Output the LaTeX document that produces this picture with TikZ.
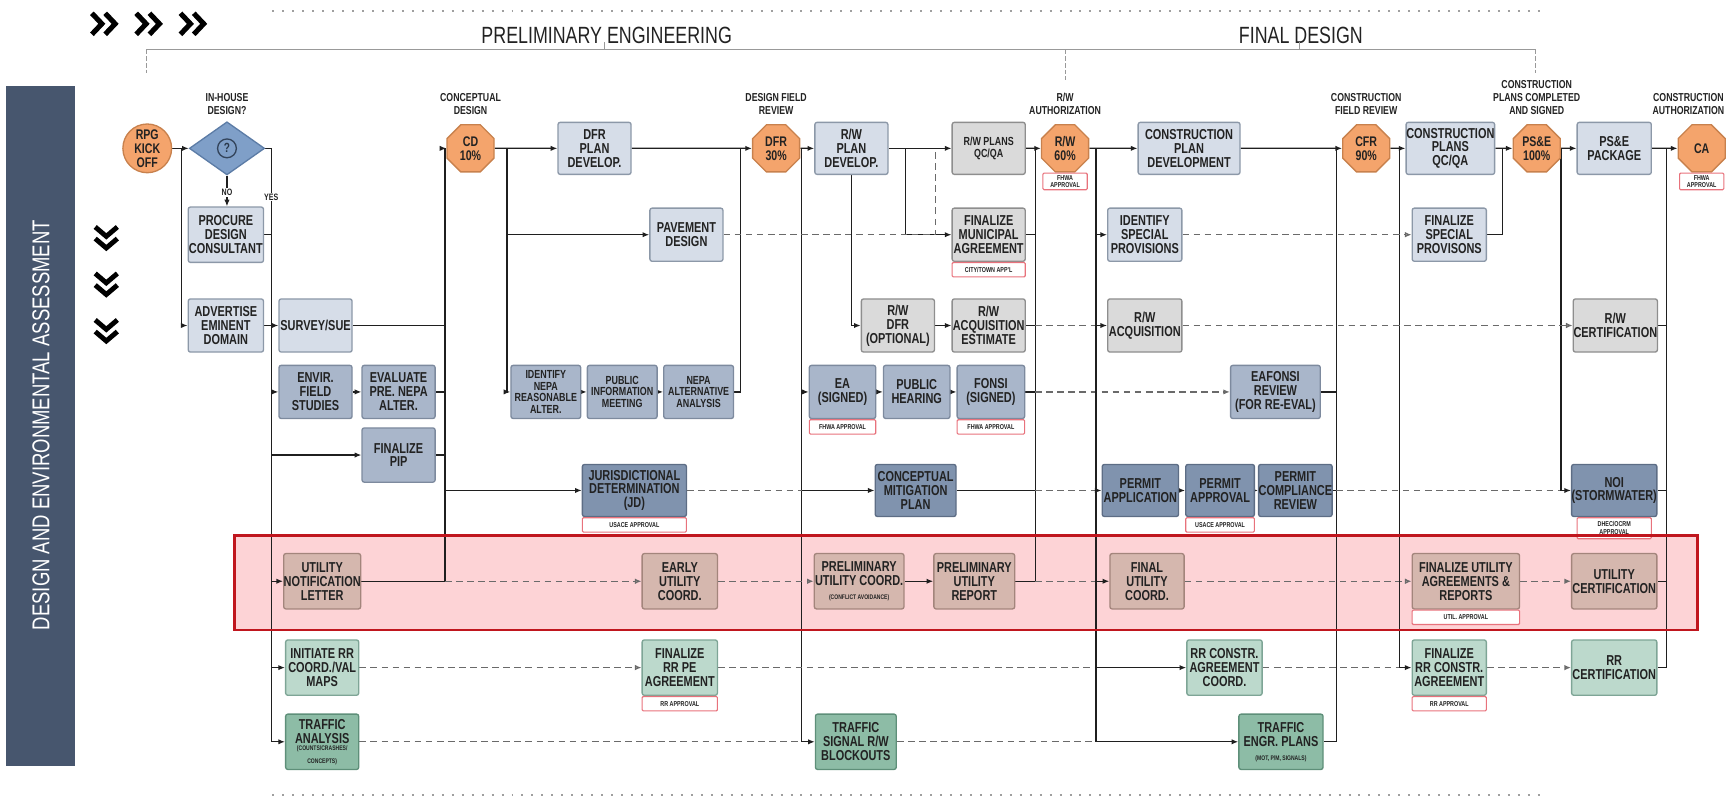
\documentclass[tikz,border=0pt]{standalone}
\usepackage{fontspec}
\setmainfont{Liberation Sans}[FakeStretch=0.76]
\usetikzlibrary{shapes.geometric,arrows.meta,backgrounds}

\definecolor{sideC}{HTML}{47566E}
\definecolor{desF}{HTML}{D6DDE8}\definecolor{desD}{HTML}{8C98A8}
\definecolor{rwF}{HTML}{DADADA}\definecolor{rwD}{HTML}{8E8E8E}
\definecolor{envF}{HTML}{A9B6CA}\definecolor{envD}{HTML}{7D8A9E}
\definecolor{prmF}{HTML}{8093AE}\definecolor{prmD}{HTML}{5D6D85}
\definecolor{utlF}{HTML}{D5B7AE}\definecolor{utlD}{HTML}{A3857C}
\definecolor{rrF}{HTML}{BCD9CC}\definecolor{rrD}{HTML}{7EA596}
\definecolor{trfF}{HTML}{8DBCA6}\definecolor{trfD}{HTML}{5E8F79}
\definecolor{octF}{HTML}{F4A46C}\definecolor{octD}{HTML}{C8814D}
\definecolor{diaF}{HTML}{7F9FC8}\definecolor{diaD}{HTML}{5C7CA6}
\definecolor{tagD}{HTML}{E8727C}
\definecolor{bandF}{HTML}{FDD3D6}\definecolor{bandD}{HTML}{C0161E}
\definecolor{txtC}{HTML}{222222}
\definecolor{dashC}{HTML}{6A6A6A}

\newcommand\bxf{\fontsize{6.5}{6.3}\selectfont\bfseries}
\newcommand\smf{\fontsize{5.3}{5.3}\selectfont\bfseries}
\newcommand\tgf{\fontsize{3.2}{3.4}\selectfont\bfseries}
\newcommand\tnf{\fontsize{3}{3.2}\selectfont\bfseries}
\newcommand\ocf{\fontsize{6.3}{6.3}\selectfont\bfseries}
\newcommand\lbf{\fontsize{5.2}{6}\selectfont\bfseries}
\newcommand\hdf{\fontsize{10.6}{11}\selectfont}
\newcommand\sbf{\fontsize{11}{12}\selectfont}
\newcommand\ynf{\fontsize{4.2}{4.5}\selectfont\bfseries}

\tikzset{
  sz/.style 2 args={minimum width=#1*0.5pt, minimum height=#2*0.5pt},
  bx/.style={draw, rounded corners=1pt, line width=0.6pt, align=center,
    inner sep=0pt, text=txtC, font=\bxf},
  des/.style={bx, fill=desF, draw=desD},
  rwb/.style={bx, fill=rwF, draw=rwD},
  env/.style={bx, fill=envF, draw=envD},
  prm/.style={bx, fill=prmF, draw=prmD},
  utl/.style={bx, fill=utlF, draw=utlD},
  rrb/.style={bx, fill=rrF, draw=rrD},
  trf/.style={bx, fill=trfF, draw=trfD},
  tagbox/.style={draw=tagD, fill=white, rounded corners=0.5pt, inner sep=0pt,
    line width=0.5pt, align=center, font=\tgf, text=txtC},
  oct/.style={regular polygon, regular polygon sides=8, fill=octF, draw=octD,
    line width=0.6pt, minimum size=23pt, inner sep=0pt, align=center, font=\ocf, text=txtC},
  circ/.style={circle, fill=octF, draw=octD, line width=0.6pt, minimum size=22pt,
    inner sep=0pt, align=center, font=\ocf, text=txtC},
  dmd/.style={diamond, fill=diaF, draw=diaD, line width=0.6pt, minimum width=34pt,
    minimum height=24pt, inner sep=0pt},
  qm/.style={circle, draw=diaD!55!black, line width=0.6pt, minimum size=8.5pt, inner sep=0pt,
    font=\fontsize{6}{6}\selectfont\bfseries, text=diaD!45!black},
  lbl/.style={align=center, font=\lbf, inner sep=0pt, text=txtC},
  ln/.style={line width=0.55pt, draw=black!88},
  dl/.style={line width=0.6pt, draw=dashC, dash pattern=on 3pt off 2pt},
  ar/.style={-{Latex[length=3pt,width=2.4pt]}},
  oar/.style={-{Latex[open,length=3pt,width=2.6pt]}},
}

\begin{document}
\begin{tikzpicture}[x=0.5pt,y=-0.5pt]
\useasboundingbox (0,0) rectangle (1568,722);

% ---------- side band and chevrons ----------
\fill[sideC] (5,78) rectangle (68,692);
\node[rotate=90, text=white, font=\sbf] (sidetxt) at (37,384) {DESIGN AND ENVIRONMENTAL ASSESSMENT};

\foreach \x in {83,123,163}{
  \draw[line width=2.3pt, miter limit=10] (\x,12) -- (\x+9,21.5) -- (\x,31);
  \draw[line width=2.3pt, miter limit=10] (\x+12,12) -- (\x+21,21.5) -- (\x+12,31);
}
\foreach \y in {205,247,289}{
  \draw[line width=2.2pt, miter limit=10] (86,\y) -- (96,\y+8.5) -- (106,\y);
  \draw[line width=2.2pt, miter limit=10] (86,\y+10.5) -- (96,\y+19) -- (106,\y+10.5);
}

% ---------- phase header ----------
\draw[gray!75, line width=0.9pt, dash pattern=on 0.9pt off 3.6pt] (246,10) -- (1395,10);
\draw[gray!75, line width=0.9pt, dash pattern=on 0.9pt off 3.6pt] (246,718) -- (1395,718);
\node[font=\hdf, text=txtC] (phpe) at (548,32) {PRELIMINARY ENGINEERING};
\node[font=\hdf, text=txtC] (phfd) at (1175,32) {FINAL DESIGN};
\draw[gray!80, line width=0.5pt] (132,45) -- (1387,45);
\draw[gray!80, line width=0.4pt] (546,45) -- (546,38);
\draw[gray!80, line width=0.4pt] (1174,45) -- (1174,38);
\draw[gray!80, line width=0.4pt, dash pattern=on 2pt off 1pt] (132,45) -- (132,66);
\draw[gray!80, line width=0.4pt, dash pattern=on 2pt off 1pt] (962,45) -- (962,72);
\draw[gray!80, line width=0.4pt, dash pattern=on 2pt off 1pt] (1387,45) -- (1387,66);

% ---------- spine positions ----------
\coordinate (X1) at (164,0);
\coordinate (X2) at (245,0);
\coordinate (X3) at (402,0);
\coordinate (X4) at (458,0);
\coordinate (X5) at (669,0);
\coordinate (X6) at (724,0);
\coordinate (X7) at (818,0);
\coordinate (X7b) at (845,0);
\coordinate (X9) at (935,0);
\coordinate (X8) at (990,0);
\coordinate (X10) at (1207,0);
\coordinate (X11) at (1264,0);
\coordinate (X13) at (1357,0);
\coordinate (X12) at (1410,0);
\coordinate (X14) at (1505,0);

% ---------- milestones ----------
\node[circ] (rpg) at (133,134) {RPG\\KICK\\OFF};
\node[dmd] (dia) at (205,134) {};
\node[qm] (qmark) at (dia) {?};
\node[lbl] (lih) at (205,94) {IN-HOUSE\\DESIGN?};

\node[oct] (cd) at (425,134) {CD\\10\%};
\node[lbl] (lcd) at (425,94) {CONCEPTUAL\\DESIGN};
\node[oct] (dfr) at (701,134) {DFR\\30\%};
\node[lbl] (ldfr) at (701,94) {DESIGN FIELD\\REVIEW};
\node[oct] (rw60) at (962,134) {R/W\\60\%};
\node[lbl] (lrw) at (962,94) {R/W\\AUTHORIZATION};
\node[tagbox, sz={40}{15}, anchor=north] (rw60tag) at (rw60.south) {FHWA\\APPROVAL};
\node[oct] (cfr) at (1234,134) {CFR\\90\%};
\node[lbl] (lcfr) at (1234,94) {CONSTRUCTION\\FIELD REVIEW};
\node[oct] (ps) at (1388,134) {PS\&E\\100\%};
\node[lbl] (lps) at (1388,88) {CONSTRUCTION\\PLANS COMPLETED\\AND SIGNED};
\node[oct] (ca) at (1537,134) {CA};
\node[lbl] (lca) at (1525,94) {CONSTRUCTION\\AUTHORIZATION};
\node[tagbox, sz={40}{15}, anchor=north] (catag) at (ca.south) {FHWA\\APPROVAL};

% ---------- design / R/W boxes ----------
\node[des, sz={68}{50}] (procure) at (204,212) {PROCURE\\DESIGN\\CONSULTANT};
\node[des, sz={68}{48}] (advert) at (204,294) {ADVERTISE\\EMINENT\\DOMAIN};
\node[des, sz={66}{48}] (survey) at (285,294) {SURVEY/SUE};
\node[des, sz={66}{47}] (dfrplan) at (537,134) {DFR\\PLAN\\DEVELOP.};
\node[des, sz={66}{48}] (pave) at (620,212) {PAVEMENT\\DESIGN};
\node[des, sz={66}{47}] (rwplan) at (769,134) {R/W\\PLAN\\DEVELOP.};
\node[des, sz={92}{47}] (cpd) at (1074,134) {CONSTRUCTION\\PLAN\\DEVELOPMENT};
\node[des, sz={67}{48}] (isp) at (1034,212) {IDENTIFY\\SPECIAL\\PROVISIONS};
\node[des, sz={80}{47}] (cpqc) at (1310,134) {CONSTRUCTION\\PLANS\\QC/QA};
\node[des, sz={67}{48}] (fsp) at (1309,212) {FINALIZE\\SPECIAL\\PROVISONS};
\node[des, sz={67}{47}] (pse) at (1458,134) {PS\&E\\PACKAGE};

\node[rwb, sz={66}{47}, font=\smf] (rwqc) at (893,134) {R/W PLANS\\QC/QA};
\node[rwb, sz={66}{48}] (fma) at (893,212) {FINALIZE\\MUNICIPAL\\AGREEMENT};
\node[tagbox, sz={66}{13}, anchor=north] (fmatag) at (fma.south) {CITY/TOWN APP'L};
\node[rwb, sz={66}{48}] (rwdfr) at (811,294) {R/W\\DFR\\(OPTIONAL)};
\node[rwb, sz={66}{48}] (rwae) at (893,294) {R/W\\ACQUISITION\\ESTIMATE};
\node[rwb, sz={67}{48}] (rwacq) at (1034,294) {R/W\\ACQUISITION};
\node[rwb, sz={76}{48}] (rwcert) at (1459,294) {R/W\\CERTIFICATION};

% ---------- environmental boxes ----------
\node[env, sz={66}{48}] (envir) at (285,354) {ENVIR.\\FIELD\\STUDIES};
\node[env, sz={66}{48}] (evalu) at (360,354) {EVALUATE\\PRE. NEPA\\ALTER.};
\node[env, sz={66}{49}] (pip) at (360,411) {FINALIZE\\PIP};
\node[env, sz={63}{48}, font=\smf] (inepa) at (493,354) {IDENTIFY\\NEPA\\REASONABLE\\ALTER.};
\node[env, sz={63}{48}, font=\smf] (pim) at (562,354) {PUBLIC\\INFORMATION\\MEETING};
\node[env, sz={63}{48}, font=\smf] (nepaa) at (631,354) {NEPA\\ALTERNATIVE\\ANALYSIS};
\node[env, sz={60}{48}] (ea) at (761,354) {EA\\(SIGNED)};
\node[tagbox, sz={60}{13}, anchor=north] (eatag) at (ea.south) {FHWA APPROVAL};
\node[env, sz={60}{48}] (ph) at (828,354) {PUBLIC\\HEARING};
\node[env, sz={61}{48}] (fonsi) at (895,354) {FONSI\\(SIGNED)};
\node[tagbox, sz={61}{13}, anchor=north] (fonsitag) at (fonsi.south) {FHWA APPROVAL};
\node[env, sz={81}{48}] (eafonsi) at (1152,354) {EAFONSI\\REVIEW\\(FOR RE-EVAL)};

% ---------- permit boxes ----------
\node[prm, sz={94}{47}] (jd) at (573,443) {JURISDICTIONAL\\DETERMINATION\\(JD)};
\node[tagbox, sz={94}{13}, anchor=north] (jdtag) at (jd.south) {USACE APPROVAL};
\node[prm, sz={73}{47}] (cmp) at (827,443) {CONCEPTUAL\\MITIGATION\\PLAN};
\node[prm, sz={69}{47}] (pa) at (1030,443) {PERMIT\\APPLICATION};
\node[prm, sz={62}{47}] (pap) at (1102,443) {PERMIT\\APPROVAL};
\node[tagbox, sz={62}{13}, anchor=north] (paptag) at (pap.south) {USACE APPROVAL};
\node[prm, sz={61}{47}] (pcr) at (1170,443) {PERMIT\\COMPLIANCE\\REVIEW};
\node[prm, sz={67}{47}] (noi) at (1458,443) {NOI\\(STORMWATER)};
\node[tagbox, sz={67}{19}, anchor=north] (noitag) at (noi.south) {DHEC/OCRM\\APPROVAL};

% ---------- utility band ----------
\begin{scope}[on background layer]
\fill[bandF] (212,484) rectangle (1533,569);
\end{scope}
\node[utl, sz={66}{50}] (unl) at (291,525) {UTILITY\\NOTIFICATION\\LETTER};
\node[utl, sz={68}{50}] (euc) at (614,525) {EARLY\\UTILITY\\COORD.};
\node[utl, sz={81}{50}] (puc) at (776,525) {PRELIMINARY\\UTILITY COORD.\\{\tnf (CONFLICT AVOIDANCE)}};
\node[utl, sz={73}{50}] (pur) at (880,525) {PRELIMINARY\\UTILITY\\REPORT};
\node[utl, sz={67}{50}] (fuc) at (1036,525) {FINAL\\UTILITY\\COORD.};
\node[utl, sz={97}{50}] (fua) at (1324,525) {FINALIZE UTILITY\\AGREEMENTS \&\\REPORTS};
\node[tagbox, sz={97}{13}, anchor=north] (fuatag) at (fua.south) {UTIL. APPROVAL};
\node[utl, sz={77}{50}] (ucert) at (1458,525) {UTILITY\\CERTIFICATION};

% ---------- railroad and traffic boxes ----------
\node[rrb, sz={66}{50}] (irr) at (291,603) {INITIATE RR\\COORD./VAL\\MAPS};
\node[rrb, sz={68}{50}] (frrpe) at (614,603) {FINALIZE\\RR PE\\AGREEMENT};
\node[tagbox, sz={68}{13}, anchor=north] (frrpetag) at (frrpe.south) {RR APPROVAL};
\node[rrb, sz={68}{50}] (rrcac) at (1106,603) {RR CONSTR.\\AGREEMENT\\COORD.};
\node[rrb, sz={67}{50}] (frrc) at (1309,603) {FINALIZE\\RR CONSTR.\\AGREEMENT};
\node[tagbox, sz={67}{13}, anchor=north] (frrctag) at (frrc.south) {RR APPROVAL};
\node[rrb, sz={77}{50}] (rrcert) at (1458,603) {RR\\CERTIFICATION};

\node[trf, sz={66}{50}] (ta) at (291,670) {TRAFFIC\\ANALYSIS\\{\tnf\shortstack{(COUNTS/CRASHES/\\CONCEPTS)}}};
\node[trf, sz={73}{50}] (tsb) at (773,670) {TRAFFIC\\SIGNAL R/W\\BLOCKOUTS};
\node[trf, sz={76}{50}] (tep) at (1157,670) {TRAFFIC\\ENGR. PLANS\\{\tnf (MOT, P/M, SIGNALS)}};

% ---------- connectors ----------
\begin{scope}[on background layer]
% kick-off and in-house decision
\draw[ln,ar] (rpg.east) -- (dia.west);
\draw[ln,ar] (X1 |- rpg.east) |- (advert.west);
\draw[ln,ar] (dia.south) -- (dia.south |- procure.north);
\draw[ln,ar] (dia.east) -| (X2 |- ta.west) -- (ta.west);
\draw[ln] (procure.east) -- (procure.east -| X2);
\draw[ln,ar] (advert.east) -- (survey.west);
\foreach \n in {envir,pip,unl,irr}{\draw[ln,ar] (X2 |- \n.west) -- (\n.west);}
\draw[ln,ar] (envir.east) -- (evalu.west);
% into CD 10%
\foreach \n in {survey,evalu,pip,unl}{\draw[ln] (\n.east) -- (\n.east -| X3);}
\draw[ln,ar] (X3 |- unl.east) -- (X3 |- cd.west) -- (cd.west);
\draw[ln,ar] (X3 |- jd.west) -- (jd.west);
\draw[dl,oar] (X3 |- unl.east) -- (euc.west);
% out of CD 10%
\draw[ln,ar] (cd.east) -- (dfrplan.west);
\draw[ln,ar] (X4 |- cd.east) |- (inepa.west);
\draw[ln,ar] (X4 |- pave.west) -- (pave.west);
\draw[ln,ar] (inepa.east) -- (pim.west);
\draw[ln,ar] (pim.east) -- (nepaa.west);
\draw[ln,ar] (dfrplan.east) -- (dfr.west);
\draw[ln] (nepaa.east) -| (X5 |- dfr.west);
% out of DFR 30%
\draw[ln,ar] (dfr.east) -- (rwplan.west);
\draw[ln,ar] (X6 |- dfr.east) |- (tsb.west);
\draw[ln,ar] (X6 |- ea.west) -- (ea.west);
\draw[ln,ar] (X6 |- cmp.west) -- (cmp.west);
\draw[dl] (jd.east) -- (X6 |- jd.east);
\draw[dl,oar] (euc.east) -- (puc.west);
\draw[dl] (ta.east) -- (X6 |- ta.east);
\draw[dl,oar] (irr.east) -- (frrpe.west);
\draw[dl] (frrpe.east) -- (X8 |- frrpe.east);
\draw[ln,ar] (puc.east) -- (pur.west);
\draw[ln,ar] (ea.east) -- (ph.west);
\draw[ln,ar] (ph.east) -- (fonsi.west);
% R/W plan development
\draw[ln,ar] (rwplan.east) -- (rwqc.west);
\draw[ln,ar] (X7 |- rwplan.east) |- (fma.west);
\draw[dl] (pave.east) -| (X7b |- rwqc.west);
\draw[ln,ar] (rwplan.south) |- (rwdfr.west);
\draw[ln,ar] (rwdfr.east) -- (rwae.west);
% into R/W 60%
\draw[ln,ar] (rwqc.east) -- (rw60.west);
\draw[ln] (pur.east) -| (X9 |- rw60.west);
\foreach \n in {fma,rwae,fonsi,cmp}{\draw[ln] (\n.east) -- (\n.east -| X9);}
\draw[dl] (X9 |- rwae.east) -- (X8 |- rwae.east);
\draw[dl,ar] (X9 |- fonsi.east) -- (eafonsi.west);
\draw[dl] (X9 |- cmp.east) -- (X8 |- cmp.east);
\draw[dl] (X9 |- pur.east) -- (X8 |- pur.east);
% out of R/W 60%
\draw[ln,ar] (rw60.east) -- (cpd.west);
\draw[ln,ar] (X8 |- rw60.east) |- (tep.west);
\foreach \n in {isp,rwacq,pa,fuc,rrcac}{\draw[ln,ar] (X8 |- \n.west) -- (\n.west);}
\draw[dl] (tsb.east) -- (X8 |- tsb.east);
\draw[ln,ar] (pa.east) -- (pap.west);
\draw[ln,ar] (pap.east) -- (pcr.west);
% into CFR 90%
\draw[ln,ar] (cpd.east) -- (cfr.west);
\draw[ln] (tep.east) -| (X10 |- cfr.west);
\draw[ln] (eafonsi.east) -- (eafonsi.east -| X10);
\draw[ln] (pcr.east) -- (pcr.east -| X10);
\draw[dl] (X10 |- pcr.east) -- (X12 |- pcr.east);
\draw[dl,oar] (fuc.east) -- (fua.west);
\draw[dl] (rrcac.east) -- (X11 |- rrcac.east);
% out of CFR 90%
\draw[ln,ar] (cfr.east) -- (cpqc.west);
\draw[ln,ar] (X11 |- cfr.east) |- (frrc.west);
\draw[dl,oar] (isp.east) -- (fsp.west);
% into and out of PS&E 100%
\draw[ln,ar] (cpqc.east) -- (ps.west);
\draw[ln] (fsp.east) -| (X13 |- ps.west);
\draw[ln,ar] (ps.east) -- (pse.west);
\draw[ln,ar] (X12 |- ps.east) |- (noi.west);
\draw[dl,oar] (rwacq.east) -- (rwcert.west);
% into CA
\draw[ln,ar] (pse.east) -- (ca.west);
\draw[ln] (rrcert.east) -| (X14 |- ca.west);
\foreach \n in {rwcert,noi,ucert}{\draw[ln] (\n.east) -- (\n.east -| X14);}
\draw[dl,oar] (fua.east) -- (ucert.west);
\draw[dl,oar] (frrc.east) -- (rrcert.west);
\end{scope}

\node[lbl, font=\ynf, fill=white, inner sep=0.5pt] (lno) at (205,174) {NO};
\node[lbl, font=\ynf, fill=white, inner sep=0.5pt] (lyes) at (245,178) {YES};

% utility band outline
\draw[bandD, line width=1.3pt] (212,484) rectangle (1533,569);
\end{tikzpicture}
\end{document}
